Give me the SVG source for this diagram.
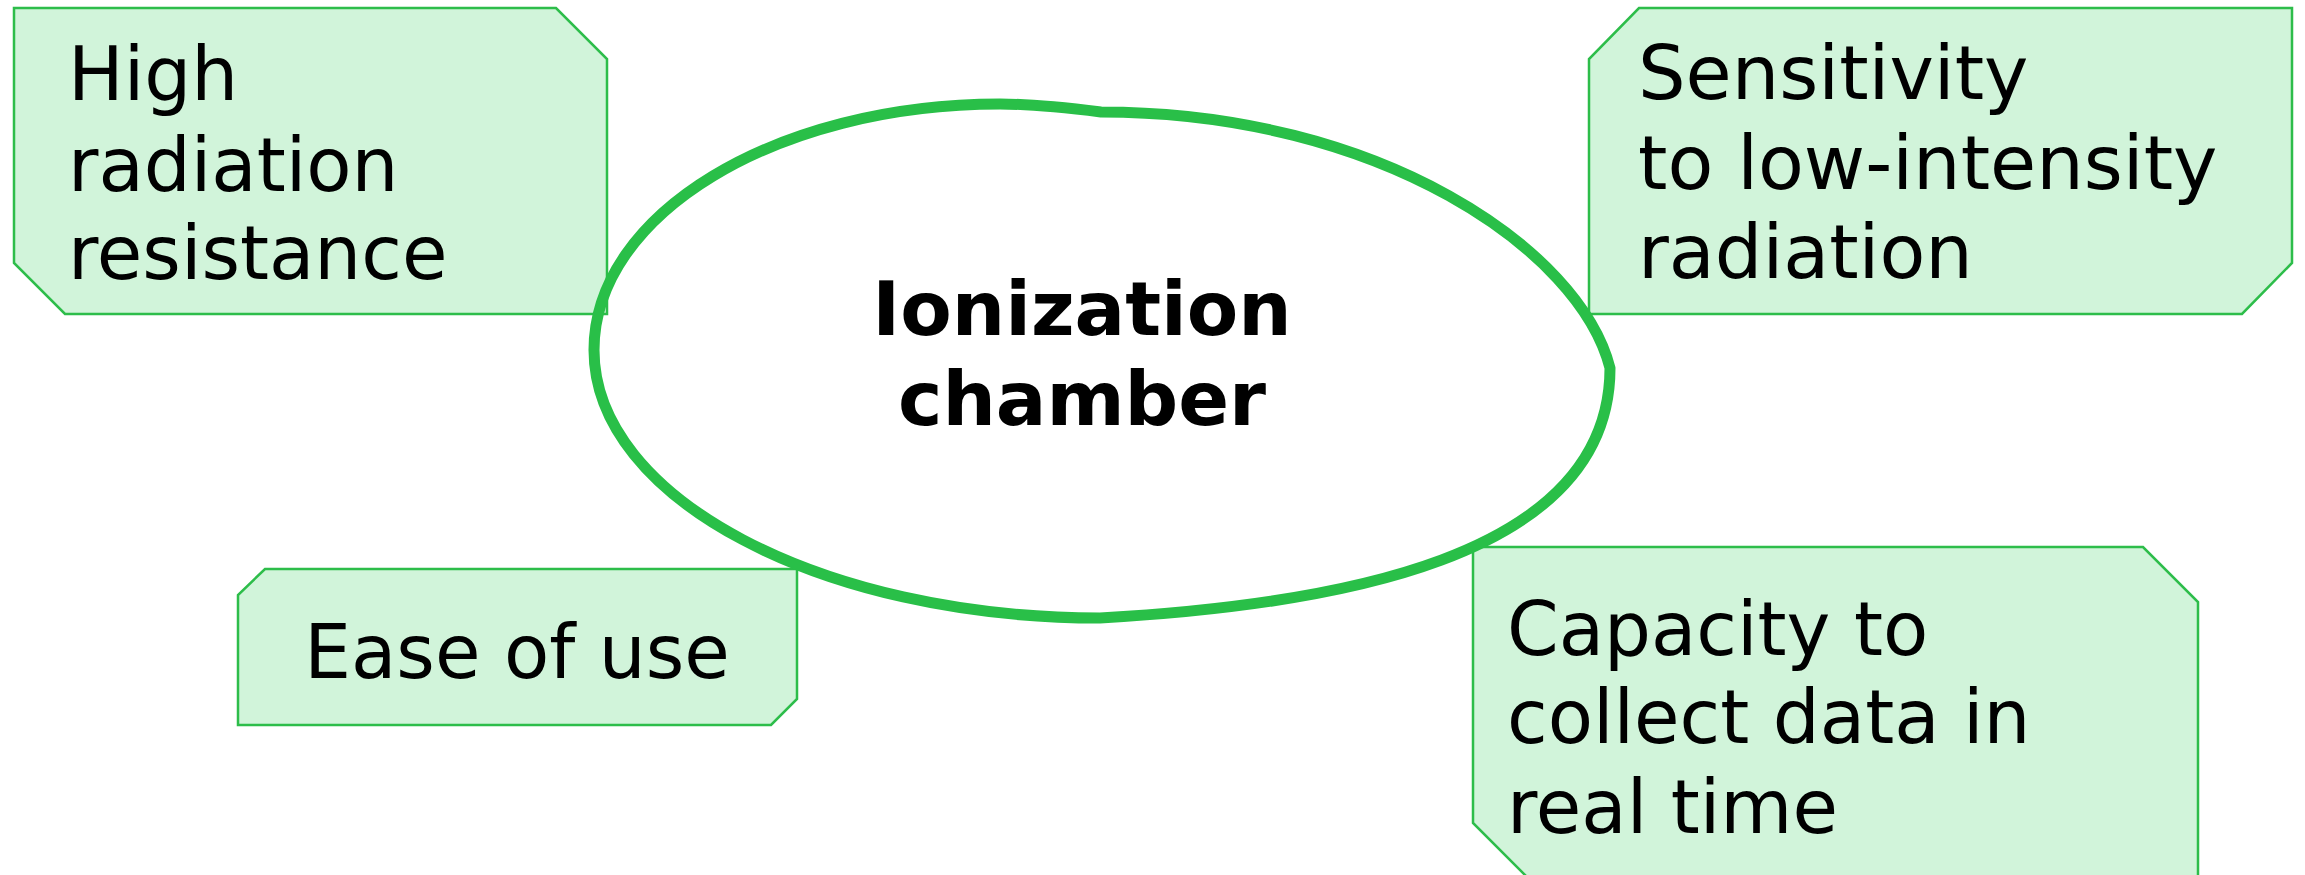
<svg xmlns="http://www.w3.org/2000/svg" width="2305" height="875" viewBox="0 0 2305 875">
<style>
.box{fill:#d1f4da;stroke:#2dbd4a;stroke-width:2.5}
.lbl{font-family:"DejaVu Sans",Verdana,sans-serif;font-size:74px;fill:#000}
.core{font-family:"DejaVu Sans",Verdana,sans-serif;font-size:75px;font-weight:bold;fill:#000;text-anchor:middle}
.blob{fill:none;stroke:#29bf48;stroke-width:11;stroke-linejoin:round}
</style>
<rect width="2305" height="875" fill="#ffffff"/>
<g id="node-high-radiation">
<polygon class="box" points="14,8 556,8 607,59 607,314 65,314 14,263"/>
<text class="lbl" x="68" y="100">High</text>
<text class="lbl" x="68" y="191">radiation</text>
<text class="lbl" x="68" y="279">resistance</text>
</g>
<g id="node-sensitivity">
<polygon class="box" points="1639,8 2292,8 2292,263 2242,314 1589,314 1589,59"/>
<text class="lbl" x="1638" y="99" style="font-size:75px">Sensitivity</text>
<text class="lbl" x="1638" y="189" style="font-size:75px">to low-intensity</text>
<text class="lbl" x="1638" y="278" style="font-size:75px">radiation</text>
</g>
<g id="node-ease">
<polygon class="box" points="265,569 797,569 797,699 771,725 238,725 238,595"/>
<text class="lbl" x="517" y="678" text-anchor="middle">Ease of use</text>
</g>
<g id="node-capacity">
<polygon class="box" points="1473,547 2143,547 2198,602 2198,880 1530,880 1473,823"/>
<text class="lbl" x="1507" y="655">Capacity to</text>
<text class="lbl" x="1507" y="743">collect data in</text>
<text class="lbl" x="1507" y="833">real time</text>
</g>
<g id="connectors"></g>
<g id="node-ionization-chamber">
<path class="blob" d="M1101,112 C1060,107 1030,104 1000,104 C776,104 594,214 594,350 C594,498 821,618 1100,618 C1330,605 1610,560 1610,368 C1580,250 1380,112 1101,112 Z"/>
<text class="core" x="1082" y="335">Ionization</text>
<text class="core" x="1082" y="425">chamber</text>
</g>
</svg>
